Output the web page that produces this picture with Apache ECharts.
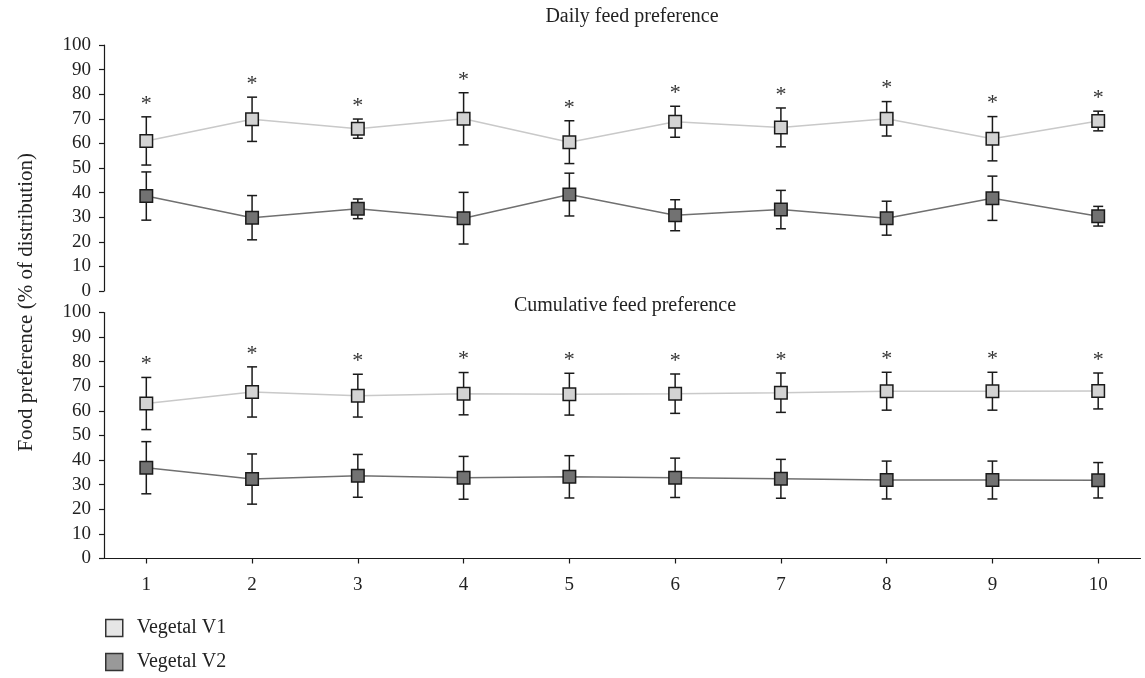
<!DOCTYPE html>
<html>
<head>
<meta charset="utf-8">
<script src="https://cdn.jsdelivr.net/npm/echarts@6/dist/echarts.min.js"></script>
<style>html,body{margin:0;padding:0;background:#fff}#c{width:1145px;height:678px}</style>
</head>
<body>
<div id="c"></div>
<script>
const days = [1,2,3,4,5,6,7,8,9,10];
const yTicks = [0,10,20,30,40,50,60,70,80,90,100];
const seriesNames = ['Vegetal V1','Vegetal V2'];
const panelTitles = ['Daily feed preference','Cumulative feed preference'];
const yAxisTitle = 'Food preference (% of distribution)';

// Daily feed preference (mean, SD)
const dailyV1 = [61.0, 69.8, 66.0, 70.0, 60.5, 68.8, 66.5, 70.0, 61.9, 69.1];
const dailyV1Err = [9.8, 9.0, 3.9, 10.6, 8.7, 6.3, 7.9, 7.0, 9.0, 4.0];
const dailyV2 = [38.6, 29.8, 33.4, 29.6, 39.2, 30.8, 33.1, 29.6, 37.7, 30.4];
const dailyV2Err = [9.8, 9.0, 4.0, 10.5, 8.7, 6.3, 7.8, 6.9, 9.0, 4.0];
const dailySig = [1,1,1,1,1,1,1,1,1,1];

// Cumulative feed preference (mean, SD)
const cumV1 = [63.0, 67.7, 66.2, 67.0, 66.8, 67.0, 67.4, 68.0, 68.0, 68.1];
const cumV1Err = [10.6, 10.2, 8.7, 8.6, 8.5, 8.0, 8.0, 7.7, 7.7, 7.3];
const cumV2 = [36.9, 32.3, 33.6, 32.8, 33.2, 32.8, 32.4, 31.9, 31.9, 31.8];
const cumV2Err = [10.6, 10.2, 8.7, 8.7, 8.6, 8.0, 7.9, 7.7, 7.7, 7.2];
const cumSig = [1,1,1,1,1,1,1,1,1,1];

const FONT = 'Liberation Serif';
const TXT = '#222';
const fillV1 = '#d3d3d3', fillV2 = '#727272';
const lineV1 = '#c9c9c9', lineV2 = '#707070';

function pts(vals){ return days.map((d,i)=>[d, vals[i]]); }
function errData(vals, errs){ return days.map((d,i)=>[d, vals[i]-errs[i], vals[i]+errs[i]]); }
function sigData(vals, errs, sig){ return days.filter((d,i)=>sig[i]).map((d)=>{const i=days.indexOf(d); return [d, vals[i]+errs[i]];}); }

function errSeries(idx, data){
  return {
    type:'custom', xAxisIndex:idx, yAxisIndex:idx, z:3, silent:true,
    renderItem:function(params, api){
      const x = api.value(0);
      const lo = api.coord([x, api.value(1)]);
      const hi = api.coord([x, api.value(2)]);
      const w = 5;
      const st = {stroke:'#1a1a1a', lineWidth:1.5};
      return {type:'group', children:[
        {type:'line', shape:{x1:lo[0],y1:lo[1],x2:hi[0],y2:hi[1]}, style:st},
        {type:'line', shape:{x1:lo[0]-w,y1:lo[1],x2:lo[0]+w,y2:lo[1]}, style:st},
        {type:'line', shape:{x1:hi[0]-w,y1:hi[1],x2:hi[0]+w,y2:hi[1]}, style:st}
      ]};
    },
    data:data
  };
}
function sigSeries(idx, data){
  return {
    type:'custom', xAxisIndex:idx, yAxisIndex:idx, z:4, silent:true,
    renderItem:function(params, api){
      const p = api.coord([api.value(0), api.value(1)]);
      return {type:'text', style:{text:'*', x:p[0], y:p[1]-13, align:'center', verticalAlign:'middle', font:'22px "Liberation Serif"', fill:'#333'}};
    },
    data:data
  };
}
function lineSeries(name, idx, vals, fill, lc){
  return {
    name:name, type:'line', xAxisIndex:idx, yAxisIndex:idx, z:5,
    data:pts(vals), symbol:'rect', symbolSize:12.5, showSymbol:true,
    lineStyle:{color:lc, width:1.5},
    itemStyle:{color:fill, borderColor:'#1a1a1a', borderWidth:1.5},
    emphasis:{disabled:true}, animation:false
  };
}

const xCommon = {type:'value', min:0.6, max:10.4};
const yCommon = {
  type:'value', min:0, max:100, interval:10,
  splitLine:{show:false},
  axisLine:{show:true, lineStyle:{color:'#1a1a1a', width:1.2}},
  axisTick:{show:true, length:5, lineStyle:{color:'#1a1a1a', width:1.2}},
  axisLabel:{color:TXT, fontFamily:FONT, fontSize:19, margin:13}
};
const legendText = {fontFamily:FONT, fontSize:20, color:TXT, padding:[0,0,0,9]};

const option = {
  animation:false,
  backgroundColor:'#fff',
  title:[
    {text:panelTitles[0], left:627, top:2, textAlign:'center', textStyle:{fontFamily:FONT, fontSize:20, fontWeight:'normal', color:TXT}},
    {text:panelTitles[1], left:620, top:291, textAlign:'center', textStyle:{fontFamily:FONT, fontSize:20, fontWeight:'normal', color:TXT}}
  ],
  legend:[
    {orient:'vertical', left:105, top:618, padding:0, itemWidth:17, itemHeight:17, selectedMode:false, textStyle:legendText,
     data:[{name:seriesNames[0], icon:'rect', itemStyle:{color:'#e6e6e6', borderColor:'#333', borderWidth:1.5}}]},
    {orient:'vertical', left:105, top:652, padding:0, itemWidth:17, itemHeight:17, selectedMode:false, textStyle:legendText,
     data:[{name:seriesNames[1], icon:'rect', itemStyle:{color:'#999999', borderColor:'#333', borderWidth:1.5}}]}
  ],
  grid:[
    {left:104, right:4.5, top:45, height:246},
    {left:104, right:4.5, top:312.5, height:246}
  ],
  xAxis:[
    Object.assign({}, xCommon, {gridIndex:0, show:false}),
    Object.assign({}, xCommon, {gridIndex:1,
      axisLine:{show:true, onZero:false, lineStyle:{color:'#1a1a1a', width:1.2}},
      axisTick:{show:true, length:5, customValues:days, lineStyle:{color:'#1a1a1a', width:1.2}},
      axisLabel:{show:true, customValues:days, color:TXT, fontFamily:FONT, fontSize:19, margin:17},
      splitLine:{show:false}
    })
  ],
  yAxis:[
    Object.assign({}, yCommon, {gridIndex:0}),
    Object.assign({}, yCommon, {gridIndex:1})
  ],
  graphic:[{
    type:'text', left:16, top:153, rotation:Math.PI/2,
    style:{text:yAxisTitle, font:'21px "Liberation Serif"', fill:TXT}
  }],
  series:[
    errSeries(0, errData(dailyV1, dailyV1Err)),
    errSeries(0, errData(dailyV2, dailyV2Err)),
    sigSeries(0, sigData(dailyV1, dailyV1Err, dailySig)),
    lineSeries(seriesNames[0], 0, dailyV1, fillV1, lineV1),
    lineSeries(seriesNames[1], 0, dailyV2, fillV2, lineV2),
    errSeries(1, errData(cumV1, cumV1Err)),
    errSeries(1, errData(cumV2, cumV2Err)),
    sigSeries(1, sigData(cumV1, cumV1Err, cumSig)),
    lineSeries(seriesNames[0], 1, cumV1, fillV1, lineV1),
    lineSeries(seriesNames[1], 1, cumV2, fillV2, lineV2)
  ]
};
const chart = echarts.init(document.getElementById('c'), null, {renderer:'canvas'});
chart.setOption(option);
</script>
</body>
</html>
